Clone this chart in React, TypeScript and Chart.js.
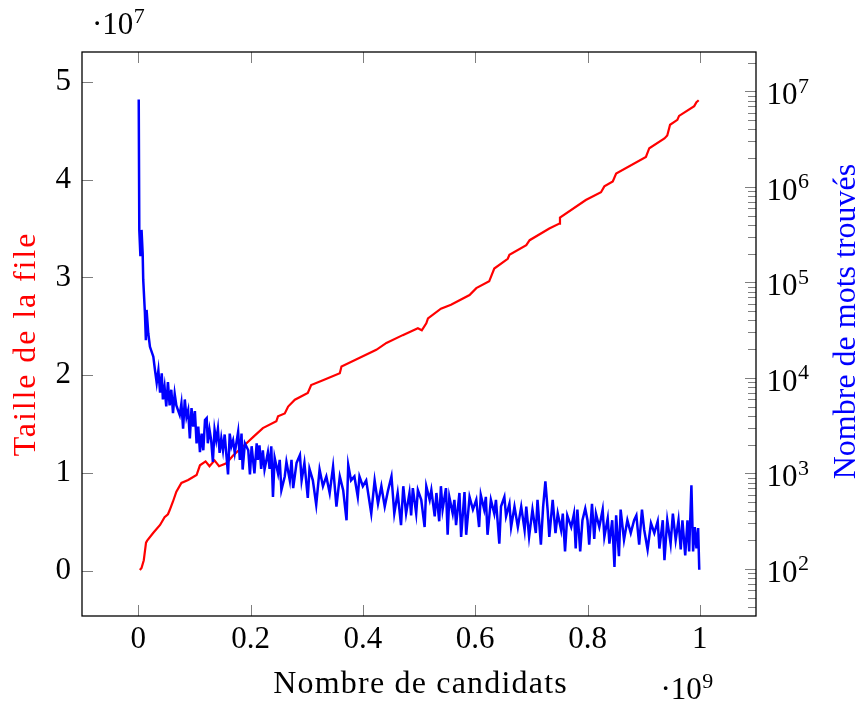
import React, { useEffect, useRef } from 'react';
import { Chart, registerables } from 'chart.js';

Chart.register(...registerables);

// Nombre de candidats, in units of 10^9
const redX = [
  0.003, 0.006, 0.010, 0.014, 0.016, 0.027, 0.039, 0.047, 0.053, 0.056, 0.062, 0.068, 0.077, 0.089,
  0.104, 0.110, 0.120, 0.127, 0.136, 0.144, 0.157, 0.169, 0.190, 0.205, 0.222, 0.246, 0.249, 0.261,
  0.267, 0.279, 0.302, 0.308, 0.329, 0.359, 0.362, 0.388, 0.424, 0.442, 0.471, 0.498, 0.505, 0.513,
  0.516, 0.539, 0.557, 0.590, 0.602, 0.625, 0.634, 0.658, 0.661, 0.691, 0.697, 0.732, 0.750, 0.751,
  0.797, 0.824, 0.830, 0.845, 0.851, 0.904, 0.910, 0.937, 0.942, 0.947, 0.960, 0.963, 0.990, 0.994,
  0.998,
];
// Taille de la file, in units of 10^7
const redY = [
  0.01, 0.03, 0.11, 0.29, 0.31, 0.39, 0.47, 0.55, 0.58, 0.62, 0.71, 0.81, 0.90, 0.93,
  0.98, 1.08, 1.12, 1.07, 1.13, 1.07, 1.10, 1.18, 1.29, 1.37, 1.46, 1.53, 1.58, 1.61,
  1.68, 1.75, 1.82, 1.90, 1.95, 2.02, 2.09, 2.16, 2.26, 2.33, 2.41, 2.48, 2.46, 2.53,
  2.58, 2.68, 2.72, 2.82, 2.89, 2.96, 3.09, 3.19, 3.23, 3.33, 3.38, 3.50, 3.55, 3.61,
  3.79, 3.87, 3.93, 3.98, 4.06, 4.23, 4.32, 4.42, 4.45, 4.56, 4.61, 4.65, 4.75, 4.79,
  4.81,
];

// Nombre de candidats (units of 10^9) for the words-found series
const blueX = [
  0.001, 0.002, 0.004, 0.006, 0.008, 0.009, 0.012, 0.0137, 0.015, 0.018, 0.021, 0.027, 0.030, 0.033,
  0.036, 0.039, 0.042, 0.044, 0.047, 0.050, 0.053, 0.056, 0.059, 0.062, 0.065, 0.068, 0.074, 0.077,
  0.080, 0.083, 0.086, 0.089, 0.092, 0.095, 0.098, 0.101, 0.104, 0.107, 0.110, 0.113, 0.116, 0.119,
  0.122, 0.124, 0.127, 0.130, 0.133, 0.136, 0.139, 0.142, 0.145, 0.148, 0.151, 0.154, 0.160, 0.163,
  0.166, 0.169, 0.172, 0.178, 0.181, 0.184, 0.186, 0.190, 0.196, 0.199, 0.202, 0.207, 0.211, 0.213,
  0.216, 0.219, 0.222, 0.225, 0.231, 0.234, 0.237, 0.240, 0.243, 0.249, 0.252, 0.255, 0.261, 0.264,
  0.270, 0.273, 0.276, 0.282, 0.288, 0.291, 0.296, 0.302, 0.305, 0.311, 0.317, 0.323, 0.329, 0.335,
  0.341, 0.347, 0.353, 0.359, 0.365, 0.371, 0.374, 0.379, 0.385, 0.391, 0.394, 0.400, 0.406, 0.415,
  0.421, 0.427, 0.433, 0.439, 0.445, 0.451, 0.456, 0.462, 0.468, 0.472, 0.477, 0.483, 0.486, 0.489,
  0.495, 0.498, 0.504, 0.510, 0.513, 0.519, 0.522, 0.528, 0.531, 0.536, 0.539, 0.542, 0.548, 0.551,
  0.554, 0.560, 0.563, 0.566, 0.572, 0.575, 0.581, 0.584, 0.590, 0.596, 0.602, 0.607, 0.610, 0.616,
  0.619, 0.622, 0.628, 0.634, 0.637, 0.643, 0.646, 0.652, 0.655, 0.661, 0.664, 0.670, 0.676, 0.682,
  0.688, 0.691, 0.696, 0.702, 0.708, 0.711, 0.717, 0.721, 0.725, 0.729, 0.732, 0.738, 0.743, 0.747,
  0.753, 0.756, 0.760, 0.764, 0.771, 0.776, 0.779, 0.782, 0.787, 0.791, 0.796, 0.800, 0.803, 0.808,
  0.812, 0.815, 0.821, 0.827, 0.830, 0.836, 0.839, 0.844, 0.848, 0.851, 0.856, 0.859, 0.865, 0.871,
  0.877, 0.883, 0.887, 0.892, 0.897, 0.901, 0.907, 0.913, 0.919, 0.925, 0.928, 0.934, 0.937, 0.942,
  0.948, 0.952, 0.957, 0.962, 0.966, 0.969, 0.974, 0.978, 0.981, 0.985, 0.988, 0.991, 0.994, 0.997,
  0.999,
];
// Nombre de mots trouvés
const blueY = [
  8240000, 355000, 188000, 355000, 202000, 107000, 48200, 24900, 51600, 29400, 21200, 16700, 12000, 8870,
  12000, 7020, 11200, 5960, 8070, 5050, 9080, 5170, 7530, 4290, 6860, 5170, 4090, 5420,
  2940, 5960, 3900, 4600, 2330, 4830, 3090, 4500, 2070, 3090, 1670, 2620, 1750, 3640,
  3810, 2070, 2880, 2220, 1320, 2880, 2220, 2940, 1640, 2330, 1750, 2560, 977, 2620,
  1930, 2220, 1640, 2740, 1390, 2620, 1100, 2070, 1750, 977, 1930, 1000, 2070, 1390,
  1970, 1120, 1750, 1100, 1670, 1120, 1930, 569, 1460, 1000, 1390, 670, 931, 1320,
  847, 1390, 703, 1290, 1560, 847, 1290, 556, 1120, 847, 471, 1100, 736, 931,
  625, 1180, 450, 931, 670, 324, 1230, 847, 931, 569, 931, 736, 847, 381,
  847, 482, 736, 450, 670, 931, 381, 625, 288, 736, 381, 625, 364, 703,
  381, 670, 530, 275, 736, 530, 670, 356, 625, 316, 736, 419, 703, 228,
  569, 381, 530, 288, 625, 217, 640, 228, 569, 419, 530, 275, 596, 419,
  569, 228, 530, 381, 530, 184, 450, 569, 356, 482, 275, 450, 275, 450,
  256, 450, 217, 419, 238, 530, 180, 450, 828, 419, 217, 530, 238, 381,
  256, 381, 153, 364, 275, 381, 164, 419, 153, 324, 429, 324, 180, 482,
  207, 381, 275, 419, 217, 339, 184, 324, 105, 364, 136, 419, 202, 324,
  238, 324, 364, 180, 419, 256, 160, 301, 238, 316, 164, 324, 124, 324,
  184, 381, 202, 324, 160, 324, 139, 324, 153, 753, 153, 275, 164, 268,
  98,
];

const xTicks = [0, 0.2, 0.4, 0.6, 0.8, 1];
const xTickLabels = ['0', '0.2', '0.4', '0.6', '0.8', '1'];
const leftTicks = [0, 1, 2, 3, 4, 5];
const leftTickLabels = ['0', '1', '2', '3', '4', '5'];
const rightMajorExponents = [2, 3, 4, 5, 6, 7];
const rightMinorFactors = [2, 3, 4, 5, 6, 7, 8, 9];

const X_MIN = -0.1;
const X_MAX = 1.1;
const LEFT_MIN = -0.46;
const LEFT_MAX = 5.303;
const RIGHT_MIN = 32.2;
const RIGHT_MAX = 25900000;

const FONT = '"Liberation Serif", "DejaVu Serif", serif';

function drawPower(ctx: any, prefix: string, exp: string, x: number, baseline: number) {
  ctx.textAlign = 'left';
  ctx.textBaseline = 'alphabetic';
  ctx.font = `31px ${FONT}`;
  ctx.fillText(prefix, x, baseline);
  const w = ctx.measureText(prefix).width;
  ctx.font = `22px ${FONT}`;
  ctx.fillText(exp, x + w + 0.5, baseline - 11.5);
}

function drawTitle(ctx: any, text: string, x: number, y: number, rot: number, color: string, spacing: number) {
  ctx.save();
  ctx.fillStyle = color;
  ctx.font = `32px ${FONT}`;
  try {
    ctx.letterSpacing = `${spacing}px`;
  } catch (e) {
    /* ignore */
  }
  ctx.textAlign = 'center';
  ctx.textBaseline = 'alphabetic';
  ctx.translate(x, y);
  if (rot) ctx.rotate(rot);
  ctx.fillText(text, spacing / 2, 0);
  ctx.restore();
}

const decorPlugin = {
  id: 'decor',
  afterDraw(chart: any) {
    const { ctx, chartArea: a, scales } = chart;
    const xs = scales.x;
    const yl = scales.yL;
    const yr = scales.yR;
    ctx.save();

    // tick marks (pointing inward)
    ctx.strokeStyle = 'rgba(0,0,0,0.5)';
    ctx.lineWidth = 1;
    ctx.beginPath();
    for (const v of xTicks) {
      const px = Math.round(xs.getPixelForValue(v)) + 0.5;
      ctx.moveTo(px, a.bottom);
      ctx.lineTo(px, a.bottom - 11);
      ctx.moveTo(px, a.top);
      ctx.lineTo(px, a.top + 11);
    }
    for (const v of leftTicks) {
      const py = Math.round(yl.getPixelForValue(v)) + 0.5;
      ctx.moveTo(a.left, py);
      ctx.lineTo(a.left + 11, py);
    }
    const decades = [1, ...rightMajorExponents];
    for (const e of decades) {
      const base = Math.pow(10, e);
      if (base >= RIGHT_MIN && base <= RIGHT_MAX) {
        const py = Math.round(yr.getPixelForValue(base)) + 0.5;
        ctx.moveTo(a.right, py);
        ctx.lineTo(a.right - 11, py);
      }
      for (const k of rightMinorFactors) {
        const v = k * base;
        if (v < RIGHT_MIN || v > RIGHT_MAX) continue;
        const py = Math.round(yr.getPixelForValue(v)) + 0.5;
        ctx.moveTo(a.right, py);
        ctx.lineTo(a.right - 8, py);
      }
    }
    ctx.stroke();

    // frame
    ctx.strokeStyle = '#000';
    ctx.lineWidth = 1.3;
    ctx.strokeRect(a.left, a.top, a.right - a.left, a.bottom - a.top);

    // right axis labels 10^n
    ctx.fillStyle = '#000';
    for (const e of rightMajorExponents) {
      const py = yr.getPixelForValue(Math.pow(10, e));
      drawPower(ctx, '10', String(e), a.right + 10.6, py + 12.7);
    }

    // multipliers
    drawPower(ctx, '\u00B710', '7', a.left + 10, 34);
    drawPower(ctx, '\u00B710', '9', 660.5, 699);

    // axis titles
    drawTitle(ctx, 'Nombre de candidats', 420, 693, 0, '#000', 1.2);
    drawTitle(ctx, 'Taille de la file', 35, 345, -Math.PI / 2, '#ff0000', 1.9);
    drawTitle(ctx, 'Nombre de mots trouvés', 855, 321.5, -Math.PI / 2, '#0000ff', 0);

    ctx.restore();
  },
};

export default function App() {
  const ref = useRef<HTMLCanvasElement | null>(null);

  useEffect(() => {
    document.body.style.margin = '0';
    const canvas = ref.current;
    if (!canvas) return;
    const chart = new Chart(canvas, {
      type: 'line',
      data: {
        datasets: [
          {
            label: 'Taille de la file',
            data: redX.map((v, i) => ({ x: v, y: redY[i] })),
            xAxisID: 'x',
            yAxisID: 'yL',
            borderColor: '#ff0000',
            backgroundColor: '#ff0000',
            borderWidth: 2.2,
            pointRadius: 0,
            tension: 0,
            order: 1,
          },
          {
            label: 'Nombre de mots trouvés',
            data: blueX.map((v, i) => ({ x: v, y: blueY[i] })),
            xAxisID: 'x',
            yAxisID: 'yR',
            borderColor: '#0000ff',
            backgroundColor: '#0000ff',
            borderWidth: 2.5,
            borderJoinStyle: 'miter',
            pointRadius: 0,
            tension: 0,
            order: 0,
          },
        ],
      },
      options: {
        responsive: false,
        animation: false,
        events: [],
        layout: { padding: { left: 0, top: 52, right: 106, bottom: 0 } },
        plugins: { legend: { display: false }, tooltip: { enabled: false } },
        scales: {
          x: {
            type: 'linear',
            position: 'bottom',
            min: X_MIN,
            max: X_MAX,
            grid: { display: false, drawTicks: false },
            border: { display: false },
            afterBuildTicks: (s: any) => {
              s.ticks = xTicks.map((v) => ({ value: v }));
            },
            afterFit: (s: any) => {
              s.height = 91;
            },
            ticks: {
              padding: 5,
              autoSkip: false,
              maxRotation: 0,
              color: '#000',
              font: { family: FONT, size: 31 },
              callback: (_v: any, i: number) => xTickLabels[i],
            },
            title: { display: false },
          },
          yL: {
            type: 'linear',
            position: 'left',
            min: LEFT_MIN,
            max: LEFT_MAX,
            grid: { display: false, drawTicks: false },
            border: { display: false },
            afterBuildTicks: (s: any) => {
              s.ticks = leftTicks.map((v) => ({ value: v }));
            },
            afterFit: (s: any) => {
              s.width = 82;
            },
            ticks: {
              padding: 11,
              autoSkip: false,
              color: '#000',
              font: { family: FONT, size: 31 },
              callback: (_v: any, i: number) => leftTickLabels[i],
            },
            title: { display: false },
          },
          yR: {
            type: 'logarithmic',
            position: 'right',
            display: false,
            min: RIGHT_MIN,
            max: RIGHT_MAX,
          },
        },
      },
      plugins: [decorPlugin],
    });
    return () => chart.destroy();
  }, []);

  return <canvas ref={ref} width={862} height={707} style={{ display: 'block' }} />;
}
